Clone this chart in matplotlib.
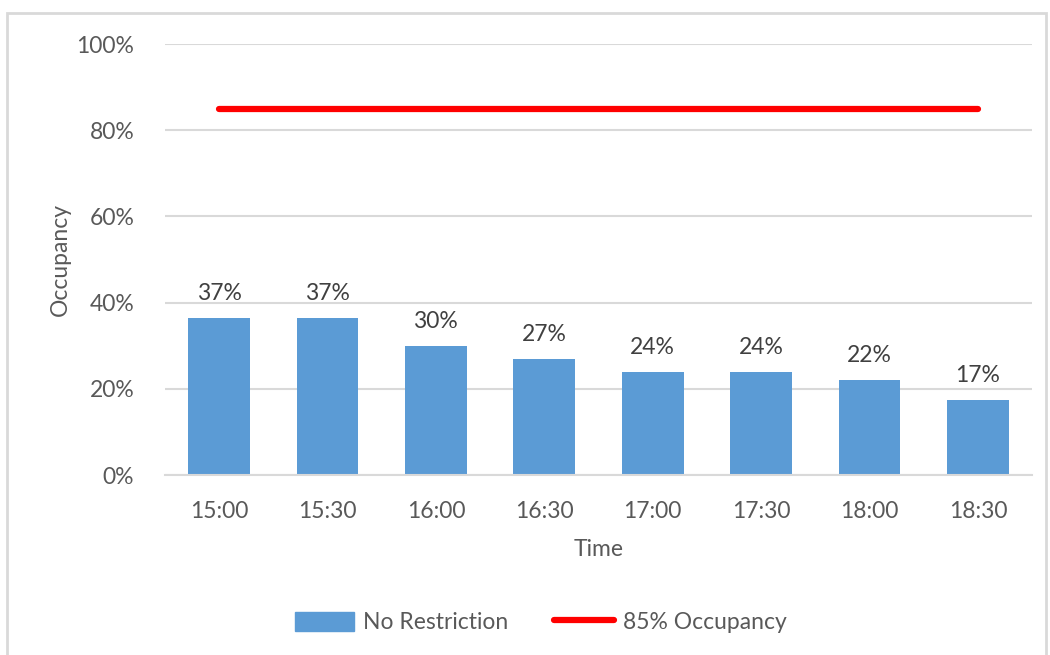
import matplotlib.pyplot as plt
from matplotlib.patches import Rectangle
from matplotlib.lines import Line2D
from matplotlib.ticker import PercentFormatter

times = ['15:00', '15:30', '16:00', '16:30', '17:00', '17:30', '18:00', '18:30']
occupancy = [0.365, 0.365, 0.30, 0.27, 0.24, 0.24, 0.22, 0.175]
bar_labels = ['37%', '37%', '30%', '27%', '24%', '24%', '22%', '17%']
target = 0.85

plt.rcParams['font.family'] = ['Lato', 'DejaVu Sans']
grey = '#595959'
fs = 16.5

fig = plt.figure(figsize=(10.5, 6.55), dpi=100)
ax = fig.add_axes([0.157, 0.2748, 0.826, 0.658])

x = range(len(times))
ax.bar(x, occupancy, width=0.57, color='#5B9BD5', zorder=2, label='No Restriction')
ax.plot([0, len(times) - 1], [target, target], color='#FF0000', lw=4.5,
        solid_capstyle='round', zorder=3, label='85% Occupancy')

for i, v in enumerate(occupancy):
    ax.annotate(bar_labels[i], (i, v), xytext=(0, 10), textcoords='offset points',
                ha='center', va='bottom', fontsize=fs, color='#404040')

ax.set_xlim(-0.5, len(times) - 0.5)
ax.set_ylim(0, 1.0)
ax.set_yticks([0, 0.2, 0.4, 0.6, 0.8, 1.0])
ax.yaxis.set_major_formatter(PercentFormatter(1.0, decimals=0))
ax.set_xticks(list(x))
ax.set_xticklabels(times)
ax.tick_params(axis='both', length=0, labelsize=fs, labelcolor=grey)
ax.tick_params(axis='x', pad=19)
ax.tick_params(axis='y', pad=22)
ax.grid(axis='y', color='#D9D9D9', lw=1.5, zorder=0)
for s in ['top', 'right', 'left']:
    ax.spines[s].set_visible(False)
ax.spines['bottom'].set_color('#D9D9D9')
ax.spines['bottom'].set_linewidth(1.5)

ax.set_xlabel('Time', fontsize=fs, color=grey, labelpad=12)
ax.set_ylabel('Occupancy', fontsize=fs, color=grey, labelpad=4)

handles = [Rectangle((0, 0), 1, 1, color='#5B9BD5'),
           Line2D([0], [0], color='#FF0000', lw=4.5, solid_capstyle='round')]
fig.legend(handles, ['No Restriction', '85% Occupancy'], loc='center',
           bbox_to_anchor=(0.515, 0.05), ncol=2, frameon=False, fontsize=fs,
           labelcolor=grey, handlelength=2.6, handleheight=0.9, handletextpad=0.4,
           columnspacing=2.0)

fig.patches.append(Rectangle((7 / 1050, -0.01), 1039 / 1050, 1 - 13 / 655 + 0.01,
                             transform=fig.transFigure, fill=False,
                             edgecolor='#D9D9D9', lw=2))

fig.savefig('out.png', dpi=100, facecolor='white')
